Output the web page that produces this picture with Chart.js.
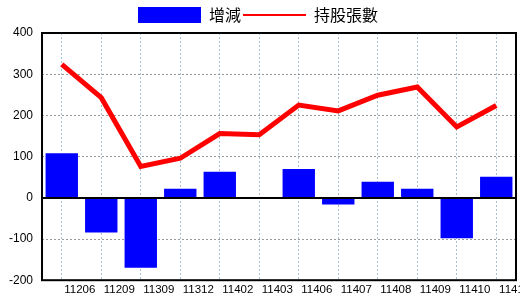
<!DOCTYPE html>
<html>
<head>
<meta charset="utf-8">
<script src="https://cdn.jsdelivr.net/npm/chart.js@4"></script>
<style>
  html, body { margin: 0; padding: 0; background: #fff; }
  #wrap { width: 520px; height: 300px; }
</style>
</head>
<body>
<div id="wrap"><canvas id="holdChart"></canvas></div>
<script>
// --- data ---
const months = ['11206', '11209', '11309', '11312', '11402', '11403', '11406', '11407', '11408', '11409', '11410', '11411'];
const changeValues = [108, -84, -170, 22, 63, 0, 70, -16, 39, 22, -98, 51];      // 增減
const holdingValues = [324, 243, 76, 96, 156, 153, 225, 211, 249, 269, 172, 224]; // 持股張數
const yTicks = [-200, -100, 0, 100, 200, 300, 400];

const FONT = "'Liberation Sans', 'Noto Sans CJK TC', sans-serif";

// frame around plot + solid zero line
const framePlugin = {
    id: 'frame',
    afterDatasetsDraw(chart) {
        const { ctx, chartArea: a, scales } = chart;
        ctx.save();
        ctx.strokeStyle = '#000';
        ctx.lineWidth = 2;
        const y0 = Math.round(scales.y.getPixelForValue(0));
        ctx.beginPath();
        ctx.moveTo(a.left, y0);
        ctx.lineTo(a.right, y0);
        ctx.stroke();
        ctx.strokeRect(a.left, a.top, a.right - a.left, a.bottom - a.top);
        ctx.restore();
    }
};

new Chart(document.getElementById('holdChart'), {
    type: 'bar',
    data: {
        labels: months,
        datasets: [
            {
                type: 'line',
                label: '持股張數',
                data: holdingValues,
                borderColor: '#ff0000',
                backgroundColor: '#ff0000',
                borderWidth: 5,
                pointRadius: 0,
                pointStyle: 'line',
                tension: 0,
                order: 0
            },
            {
                label: '增減',
                data: changeValues,
                backgroundColor: '#0000ff',
                borderWidth: 0,
                barPercentage: 0.82,
                categoryPercentage: 1,
                pointStyle: 'rect',
                order: 1
            }
        ]
    },
    options: {
        responsive: true,
        maintainAspectRatio: false,
        animation: false,
        layout: { padding: { top: 5, right: 4, left: 0, bottom: 0 } },
        plugins: {
            legend: {
                display: true,
                position: 'top',
                reverse: true,
                labels: {
                    font: { family: "'Noto Sans CJK TC', sans-serif", size: 16 },
                    color: '#000',
                    usePointStyle: true,
                    pointStyleWidth: 63,
                    boxHeight: 16,
                    padding: 2,
                    generateLabels(chart) {
                        const items = Chart.defaults.plugins.legend.labels.generateLabels(chart);
                        items.forEach(it => {
                            if (it.pointStyle === 'line') { it.lineWidth = 2; it.strokeStyle = '#ff0000'; }
                            else { it.lineWidth = 0; }
                        });
                        return items;
                    }
                }
            },
            tooltip: { enabled: false }
        },
        scales: {
            x: {
                offset: true,
                grid: {
                    offset: false,
                    color: '#a8c0d0',
                    drawTicks: false
                },
                border: { display: false, dash: [2, 2] },
                ticks: {
                    font: { family: FONT, size: 11.5 },
                    color: '#000',
                    labelOffset: 18,
                    maxRotation: 0,
                    autoSkip: false,
                    padding: 3
                }
            },
            y: {
                min: -200,
                max: 400,
                afterBuildTicks(scale) { scale.ticks = yTicks.map(v => ({ value: v })); },
                grid: {
                    color: '#999',
                    drawTicks: false
                },
                border: { display: false, dash: [2, 2] },
                ticks: {
                    font: { family: FONT, size: 12 },
                    color: '#000',
                    padding: 9
                }
            }
        }
    },
    plugins: [framePlugin]
});
</script>
</body>
</html>
